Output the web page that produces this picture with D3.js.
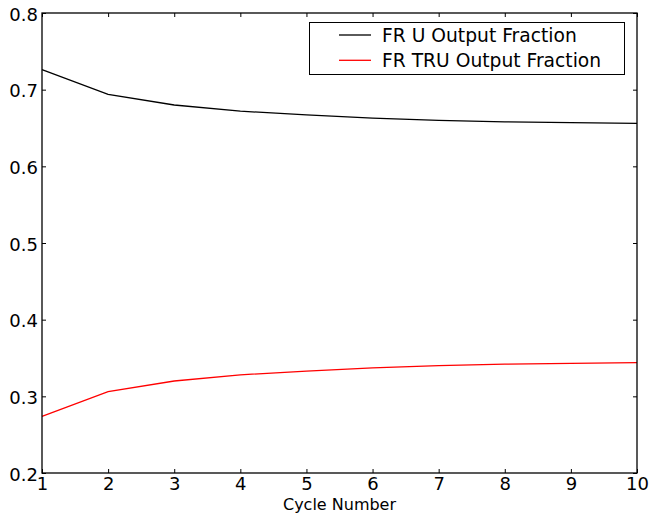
<!DOCTYPE html>
<html>
<head>
<meta charset="utf-8">
<script src="https://cdn.jsdelivr.net/npm/d3@7"></script>
<style>
  body { margin: 0; background: #fff; }
  svg { display: block; font-family: "DejaVu Sans", sans-serif; }
  .tick text { fill: #000; }
</style>
</head>
<body>
<script>
// Chart size and plot box
let w = 652, h = 521;
let box = {left: 42, right: 637, top: 13, bottom: 473};

// Data
let cycles = [1, 2, 3, 4, 5, 6, 7, 8, 9, 10];
let uFraction = [0.726, 0.694, 0.680, 0.672, 0.667, 0.663, 0.660, 0.658, 0.657, 0.656];
let truFraction = [0.274, 0.306, 0.320, 0.328, 0.333, 0.337, 0.340, 0.342, 0.343, 0.344];
let seriesNames = ["FR U Output Fraction", "FR TRU Output Fraction"];
let seriesColors = ["#000000", "#ff0000"];
let yTicks = [0.2, 0.3, 0.4, 0.5, 0.6, 0.7, 0.8];

let svg = d3.select("body")
  .append("svg")
  .attr("width", w)
  .attr("height", h);

// Scales
let xScale = d3.scaleLinear()
  .domain([1, 10])
  .range([box.left, box.right]);

let yScale = d3.scaleLinear()
  .domain([0.2, 0.8])
  .range([box.bottom, box.top]);

// Lines
let line = d3.line()
  .x((d, i) => xScale(cycles[i]))
  .y(d => yScale(d));

[uFraction, truFraction].forEach((vals, i) => {
  svg.append("path")
    .datum(vals)
    .attr("fill", "none")
    .attr("stroke", seriesColors[i])
    .attr("stroke-width", 1.3)
    .attr("d", line);
});

// Axes - ticks point inward on all four sides
let tickLen = 4;
let styleAxis = g => {
  g.select(".domain").remove();
  g.selectAll(".tick line").attr("stroke", "#000").attr("stroke-width", 1);
};

svg.append("g")
  .attr("transform", "translate(0," + box.bottom + ")")
  .call(d3.axisBottom(xScale).tickValues(cycles).tickSizeInner(-tickLen).tickPadding(4).tickFormat(d3.format("d")))
  .call(styleAxis)
  .call(g => g.selectAll(".tick text").attr("font-size", 18).attr("font-family", "DejaVu Sans").attr("dy", "0.71em"));

svg.append("g")
  .attr("transform", "translate(0," + box.top + ")")
  .call(d3.axisTop(xScale).tickValues(cycles).tickSizeInner(-tickLen).tickFormat(""))
  .call(styleAxis);

svg.append("g")
  .attr("transform", "translate(" + box.left + ",0)")
  .call(d3.axisLeft(yScale).tickValues(yTicks).tickSizeInner(-tickLen).tickPadding(4).tickFormat(d3.format(".1f")))
  .call(styleAxis)
  .call(g => g.selectAll(".tick text").attr("font-size", 18).attr("font-family", "DejaVu Sans").attr("dy", "0.4em"));

svg.append("g")
  .attr("transform", "translate(" + box.right + ",0)")
  .call(d3.axisRight(yScale).tickValues(yTicks).tickSizeInner(-tickLen).tickFormat(""))
  .call(styleAxis);

// Plot frame
svg.append("rect")
  .attr("x", box.left)
  .attr("y", box.top)
  .attr("width", box.right - box.left)
  .attr("height", box.bottom - box.top)
  .attr("fill", "none")
  .attr("stroke", "#000")
  .attr("stroke-width", 1.3);

// X label
svg.append("text")
  .attr("x", (box.left + box.right) / 2)
  .attr("y", 510)
  .attr("text-anchor", "middle")
  .attr("font-size", 16)
  .text("Cycle Number");

// Legend
let legend = svg.append("g");
legend.append("rect")
  .attr("x", 309.5)
  .attr("y", 22.5)
  .attr("width", 315)
  .attr("height", 52)
  .attr("fill", "#fff")
  .attr("stroke", "#000")
  .attr("stroke-width", 1);

seriesNames.forEach((name, i) => {
  let ly = 35 + i * 25.3;
  legend.append("line")
    .attr("x1", 339).attr("x2", 371)
    .attr("y1", ly).attr("y2", ly)
    .attr("stroke", seriesColors[i])
    .attr("stroke-width", 1.3);
  legend.append("text")
    .attr("x", 382)
    .attr("y", ly)
    .attr("dy", "0.35em")
    .attr("font-size", 18.7)
    .text(name);
});
</script>
</body>
</html>
